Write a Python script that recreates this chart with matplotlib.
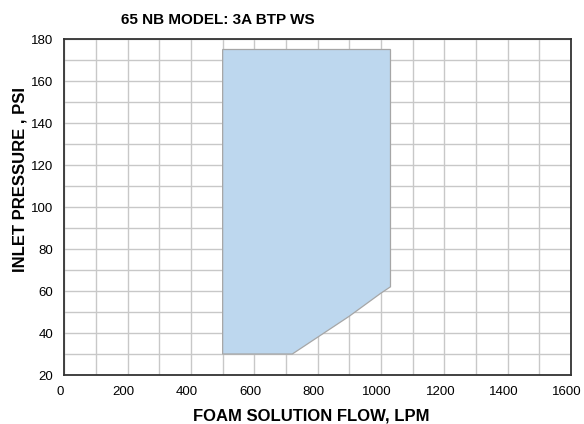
import matplotlib
matplotlib.use("Agg")
import matplotlib.pyplot as plt
from matplotlib.ticker import MultipleLocator
from matplotlib.transforms import ScaledTranslation

plt.rcParams['font.family'] = ['Liberation Sans', 'DejaVu Sans']

# Operating envelope (flow LPM, pressure PSI)
flow = [500, 1030, 1030, 1000, 900, 800, 720, 500]
pressure = [175, 175, 62, 59, 48, 38, 30, 30]

title = "65 NB MODEL: 3A BTP WS"
xlabel = "FOAM SOLUTION FLOW, LPM"
ylabel = "INLET PRESSURE , PSI"

W, H = 584, 424
fig = plt.figure(figsize=(W / 100, H / 100), dpi=100)
ax = fig.add_axes([64.3 / W, (H - 375) / H, 506.7 / W, 336 / H])

ax.fill(flow, pressure, facecolor='#bdd7ee', edgecolor='#a6a6a6', linewidth=0.9, zorder=2)

ax.set_xlim(0, 1600)
ax.set_ylim(20, 180)
ax.xaxis.set_major_locator(MultipleLocator(200))
ax.xaxis.set_minor_locator(MultipleLocator(100))
ax.yaxis.set_major_locator(MultipleLocator(20))
ax.yaxis.set_minor_locator(MultipleLocator(10))
ax.grid(which='both', color='#c8c8c8', linewidth=1.0, zorder=0)
ax.set_axisbelow(True)
ax.tick_params(which='both', length=0, labelsize=9.5, colors='black')
ax.tick_params(axis='x', pad=8)
ax.tick_params(axis='y', pad=8)
for s in ax.spines.values():
    s.set_color('#333333')
    s.set_linewidth(1.3)

fig.canvas.draw()
offset = ScaledTranslation(-4 / 100, 0, fig.dpi_scale_trans)
for lbl in ax.get_xticklabels():
    lbl.set_transform(lbl.get_transform() + offset)

fig.text(218 / W, 1 - 20 / H, title, fontsize=11, fontweight='bold', ha='center', va='center')
fig.text(311 / W, 1 - 416 / H, xlabel, fontsize=12, fontweight='bold', ha='center', va='center')
fig.text(20 / W, 1 - 180 / H, ylabel, fontsize=12, fontweight='bold', ha='center', va='center', rotation=90)

fig.savefig("out.png", dpi=100)
